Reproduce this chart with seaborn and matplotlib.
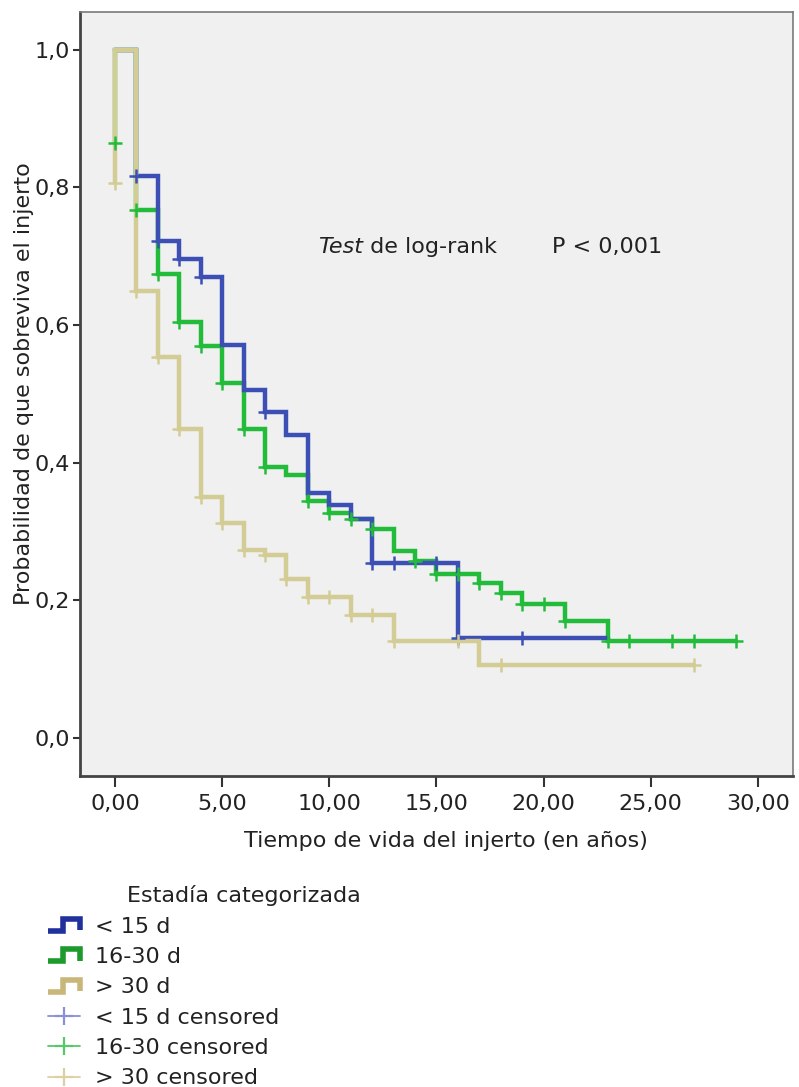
import numpy as np
import pandas as pd
import matplotlib
matplotlib.use("Agg")
import matplotlib.pyplot as plt
import seaborn as sns
from matplotlib.lines import Line2D
from matplotlib.legend_handler import HandlerBase

# ---------------- data ----------------
group_labels = ["< 15 d", "16-30 d", "> 30 d"]
censor_labels = ["< 15 d censored", "16-30 censored", "> 30 censored"]

blue_times = [0, 1, 2, 3, 4, 5, 6, 7, 8, 9, 10, 11, 12, 16, 23]
blue_surv = [1.000, 0.816, 0.722, 0.696, 0.670, 0.571, 0.506, 0.474, 0.441,
             0.356, 0.339, 0.318, 0.255, 0.145, 0.145]
blue_cens = [1, 2, 3, 4, 7, 12, 13, 15, 16, 19]

green_times = [0, 0, 1, 2, 3, 4, 5, 6, 7, 8, 9, 10, 11, 12, 13, 14, 15, 17, 18,
               19, 21, 23, 29]
green_surv = [0.864, 1.000, 0.767, 0.674, 0.604, 0.569, 0.516, 0.449, 0.394,
              0.383, 0.345, 0.327, 0.318, 0.304, 0.272, 0.257, 0.238, 0.225,
              0.211, 0.195, 0.170, 0.141, 0.141]
green_cens = [0, 1, 2, 3, 4, 5, 6, 7, 9, 10, 11, 12, 14, 15, 16, 17, 18, 19, 20,
              21, 23, 24, 26, 27, 29]

tan_times = [0, 0, 1, 2, 3, 4, 5, 6, 7, 8, 9, 11, 13, 17, 27]
tan_surv = [0.806, 1.000, 0.650, 0.554, 0.449, 0.351, 0.313, 0.274, 0.266,
            0.231, 0.205, 0.179, 0.141, 0.106, 0.106]
tan_cens = [0, 1, 2, 3, 4, 5, 6, 7, 8, 9, 10, 11, 12, 13, 16, 18, 27]

x_ticks = [0, 5, 10, 15, 20, 25, 30]
x_tick_labels = ["0,00", "5,00", "10,00", "15,00", "20,00", "25,00", "30,00"]
y_ticks = [0.0, 0.2, 0.4, 0.6, 0.8, 1.0]
y_tick_labels = ["0,0", "0,2", "0,4", "0,6", "0,8", "1,0"]

line_colors = ["#3c4fb4", "#22bb3a", "#d3cc94"]
legend_line_colors = ["#20309c", "#1e9a2c", "#c9b77a"]
legend_cens_colors = ["#8a8fd6", "#55c868", "#ddd0a0"]

# ---------------- figure ----------------
sns.set_style("white")
plt.rcParams["font.family"] = ["DejaVu Sans"]
FS = 16
plt.rcParams["font.size"] = FS
text_color = "#222222"

fig = plt.figure(figsize=(7.99, 10.87), dpi=100)
ax = fig.add_axes([0.1001, 0.2861, 0.8924, 0.7029])
ax.set_facecolor("#f0f0f0")


def censored_y(times, surv, t):
    times = np.asarray(times, dtype=float)
    idx = np.searchsorted(times, t, side="right") - 1
    if t == times[0]:
        idx = 0
    return surv[idx]


series = [
    (green_times, green_surv, green_cens, line_colors[1]),
    (blue_times, blue_surv, blue_cens, line_colors[0]),
    (tan_times, tan_surv, tan_cens, line_colors[2]),
]

for times, surv, cens, col in series:
    df = pd.DataFrame({"t": times, "s": surv})
    sns.lineplot(data=df, x="t", y="s", estimator=None, sort=False,
                 drawstyle="steps-post", color=col, linewidth=3.2, ax=ax,
                 solid_joinstyle="miter")
    cdf = pd.DataFrame({"t": cens, "s": [censored_y(times, surv, c) for c in cens]})
    sns.scatterplot(data=cdf, x="t", y="s", marker="+", s=100, linewidth=1.8,
                    color=col, ax=ax, zorder=3)

ax.set_xlim(-1.63, 31.64)
ax.set_ylim(-0.055, 1.055)
ax.set_xticks(x_ticks)
ax.set_xticklabels(x_tick_labels)
ax.set_yticks(y_ticks)
ax.set_yticklabels(y_tick_labels)
ax.tick_params(axis="both", direction="out", width=1.5, colors="#333333",
               labelcolor=text_color, labelsize=FS, left=True, bottom=True)
ax.tick_params(axis="x", length=8, pad=5)
ax.tick_params(axis="y", length=5, pad=2)
for side in ["left", "bottom"]:
    ax.spines[side].set_color("#444444")
    ax.spines[side].set_linewidth(2.0)
for side in ["top", "right"]:
    ax.spines[side].set_color("#7a7a7a")
    ax.spines[side].set_linewidth(1.2)
    ax.spines[side].set_visible(True)

ax.set_xlabel("Tiempo de vida del injerto (en años)", fontsize=FS,
              color=text_color)
ax.set_ylabel("Probabilidad de que sobreviva el injerto", fontsize=FS,
              color=text_color)
ax.xaxis.set_label_coords(0.513, -0.072)
ax.yaxis.set_label_coords(-0.0645, 0.513)
ax.grid(False)

# log-rank annotation
t1 = ax.text(9.47, 0.714, "Test", fontstyle="italic", fontsize=FS,
             color=text_color, va="center", ha="left")
ax.annotate(" de log-rank", xy=(1, 0.5), xycoords=t1, va="center", ha="left",
            fontsize=FS, color=text_color)
ax.text(20.39, 0.714, "P < 0,001", fontsize=FS, color=text_color,
        va="center", ha="left")


# ---------------- legend ----------------
class StepHandler(HandlerBase):
    def create_artists(self, legend, orig_handle, xdescent, ydescent, width,
                       height, fontsize, trans):
        x0, y0 = -xdescent, -ydescent
        xs = [x0, x0 + 0.45 * width, x0 + 0.45 * width, x0 + width, x0 + width]
        ys = [y0 + 0.1 * height, y0 + 0.1 * height, y0 + 0.9 * height,
              y0 + 0.9 * height, y0 + 0.15 * height]
        ln = Line2D(xs, ys, color=orig_handle.get_color(),
                    linewidth=orig_handle.get_linewidth(),
                    solid_joinstyle="miter", solid_capstyle="butt")
        ln.set_transform(trans)
        return [ln]


step_handles = [Line2D([], [], color=c, linewidth=4) for c in legend_line_colors]
cens_handles = [Line2D([], [], color=c, linewidth=1.3, marker="+",
                       markersize=13, markeredgewidth=1.6)
                for c in legend_cens_colors]
handler_map = {h: StepHandler() for h in step_handles}

fig.text(127 / 799, 1 - 895 / 1087, "Estadía categorizada", fontsize=FS,
         color=text_color, ha="left", va="center")
fig.legend(step_handles + cens_handles, group_labels + censor_labels,
           handler_map=handler_map, loc="upper left",
           bbox_to_anchor=(48 / 799, 1 - 917 / 1087), frameon=False,
           fontsize=FS, borderpad=0, borderaxespad=0, handlelength=1.45,
           handleheight=0.65, handletextpad=0.68, labelspacing=0.46,
           labelcolor=text_color)

fig.savefig("out.png", dpi=100)
